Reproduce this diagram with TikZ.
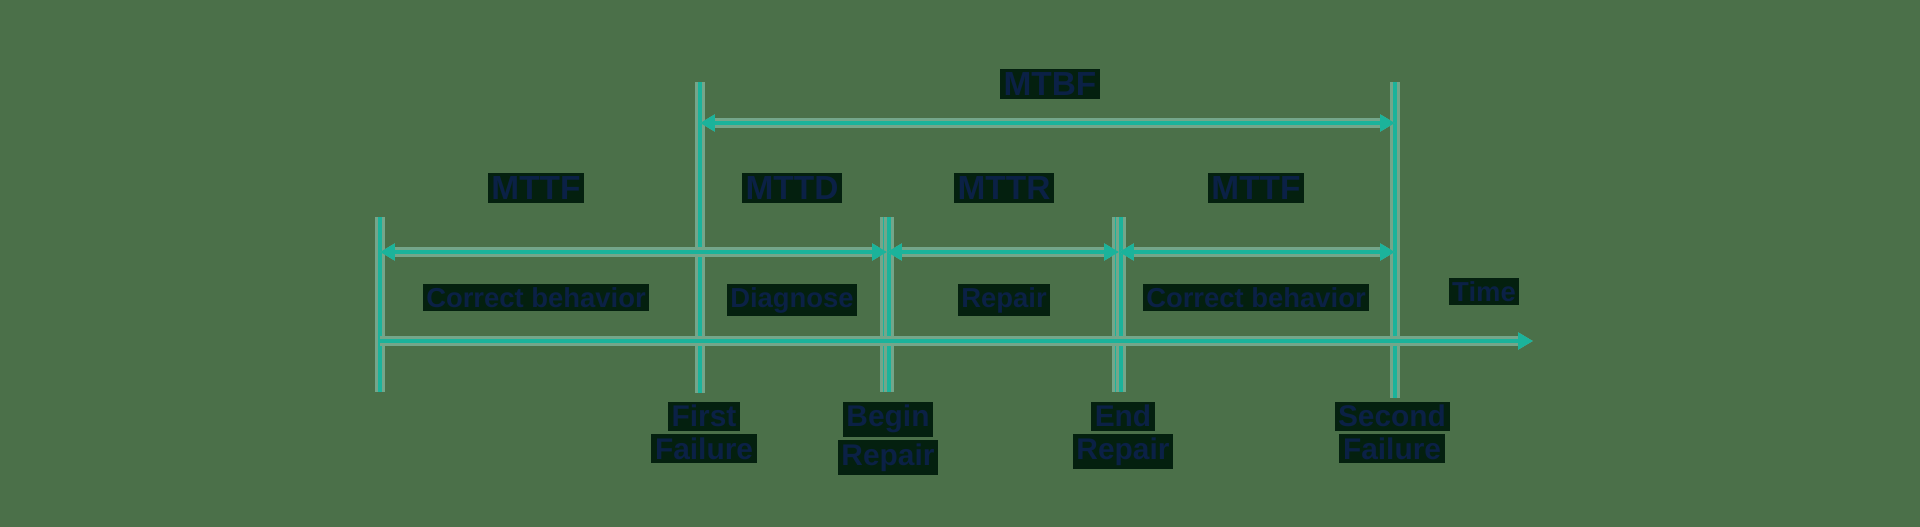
\documentclass[tikz,border=0pt]{standalone}
\usepackage{fontspec}
\setmainfont{Liberation Sans}
\usetikzlibrary{arrows.meta}
\definecolor{bggreen}{HTML}{4B7049}
\definecolor{lineteal}{HTML}{1BB39B}
\definecolor{linehalo}{HTML}{74A68A}
\definecolor{textnavy}{HTML}{0B2146}
\definecolor{textbox}{HTML}{04200F}
\newcommand{\evbox}[1]{{\setlength{\fboxsep}{1pt}\colorbox{textbox}{#1}}}
\tikzset{
  rule/.style={draw=lineteal, line width=1.2pt, preaction={draw=linehalo, line width=2.6pt}},
  span/.style={rule, {Triangle[length=4.2pt,width=4.6pt]}-{Triangle[length=4.2pt,width=4.6pt]}},
  axis/.style={rule, -{Triangle[length=4.2pt,width=4.6pt]}},
  head/.style={font=\bfseries\fontsize{9.5}{11}\selectfont, text=textnavy, fill=textbox, inner sep=1pt, anchor=base},
  phase/.style={font=\bfseries\fontsize{7.8}{9}\selectfont, text=textnavy, fill=textbox, inner sep=1pt, anchor=base},
  event/.style={font=\bfseries\fontsize{8.5}{9.2}\selectfont, text=textnavy, inner sep=0pt, align=center, anchor=north},
}
\begin{document}
\begin{tikzpicture}[x=0.01cm, y=-0.01cm]
        \fill [bggreen] (0,0) rectangle (1920,527);
        \useasboundingbox (0,0) rectangle (1920,527);
        % event lines
        \coordinate (start top) at (380,217);   \coordinate (start bot) at (380,392);
        \coordinate (ff top) at (700,82);       \coordinate (ff bot) at (700,393);
        \coordinate (br top) at (885,217);      \coordinate (br bot) at (885,392);
        \coordinate (br2 top) at (889,217);     \coordinate (br2 bot) at (889,392);
        \coordinate (er top) at (1117,217);     \coordinate (er bot) at (1117,392);
        \coordinate (er2 top) at (1121,217);    \coordinate (er2 bot) at (1121,392);
        \coordinate (sf top) at (1395,82);      \coordinate (sf bot) at (1395,398);
        \draw [rule] (start top)--(start bot);
        \draw [rule] (ff top)--(ff bot);
        \draw [rule] (br top)--(br bot);
        \draw [rule] (br2 top)--(br2 bot);
        \draw [rule] (er top)--(er bot);
        \draw [rule] (er2 top)--(er2 bot);
        \draw [rule] (sf top)--(sf bot);
        % time axis
        \coordinate (t0) at (380,341);
        \coordinate (t1) at (1533,341);
        \draw [axis] (t0)--(t1);
        % spans
        \coordinate (m0) at (380,252);
        \coordinate (m1) at (887,252);
        \coordinate (m2) at (1119,252);
        \coordinate (m3) at (1395,252);
        \draw [span] (m0)--(m1);
        \draw [span] (m1)--(m2);
        \draw [span] (m2)--(m3);
        \coordinate (u0) at (700,123);
        \coordinate (u1) at (1395,123);
        \draw [span] (u0)--(u1);
        % labels
        \node [head] (mtbf) at (1050,95) {MTBF};
        \node [head] (mttf1) at (536,199) {MTTF};
        \node [head] (mttd) at (792,199) {MTTD};
        \node [head] (mttr) at (1004,199) {MTTR};
        \node [head] (mttf2) at (1256,199) {MTTF};
        \node [phase] (ok1) at (536,307) {Correct behavior};
        \node [phase] (diag) at (792,307) {Diagnose};
        \node [phase] (rep) at (1004,307) {Repair};
        \node [phase] (ok2) at (1256,307) {Correct behavior};
        \node [phase] (time) at (1484,301) {Time};
        \node [event] (first) at (704,401) {\evbox{First}\\\evbox{Failure}};
        \node [event] (begin) at (888,401) {\evbox{Begin}\\\evbox{Repair}};
        \node [event] (end) at (1123,401) {\evbox{End}\\\evbox{Repair}};
        \node [event] (second) at (1392,401) {\evbox{Second}\\\evbox{Failure}};
\end{tikzpicture}
\end{document}
